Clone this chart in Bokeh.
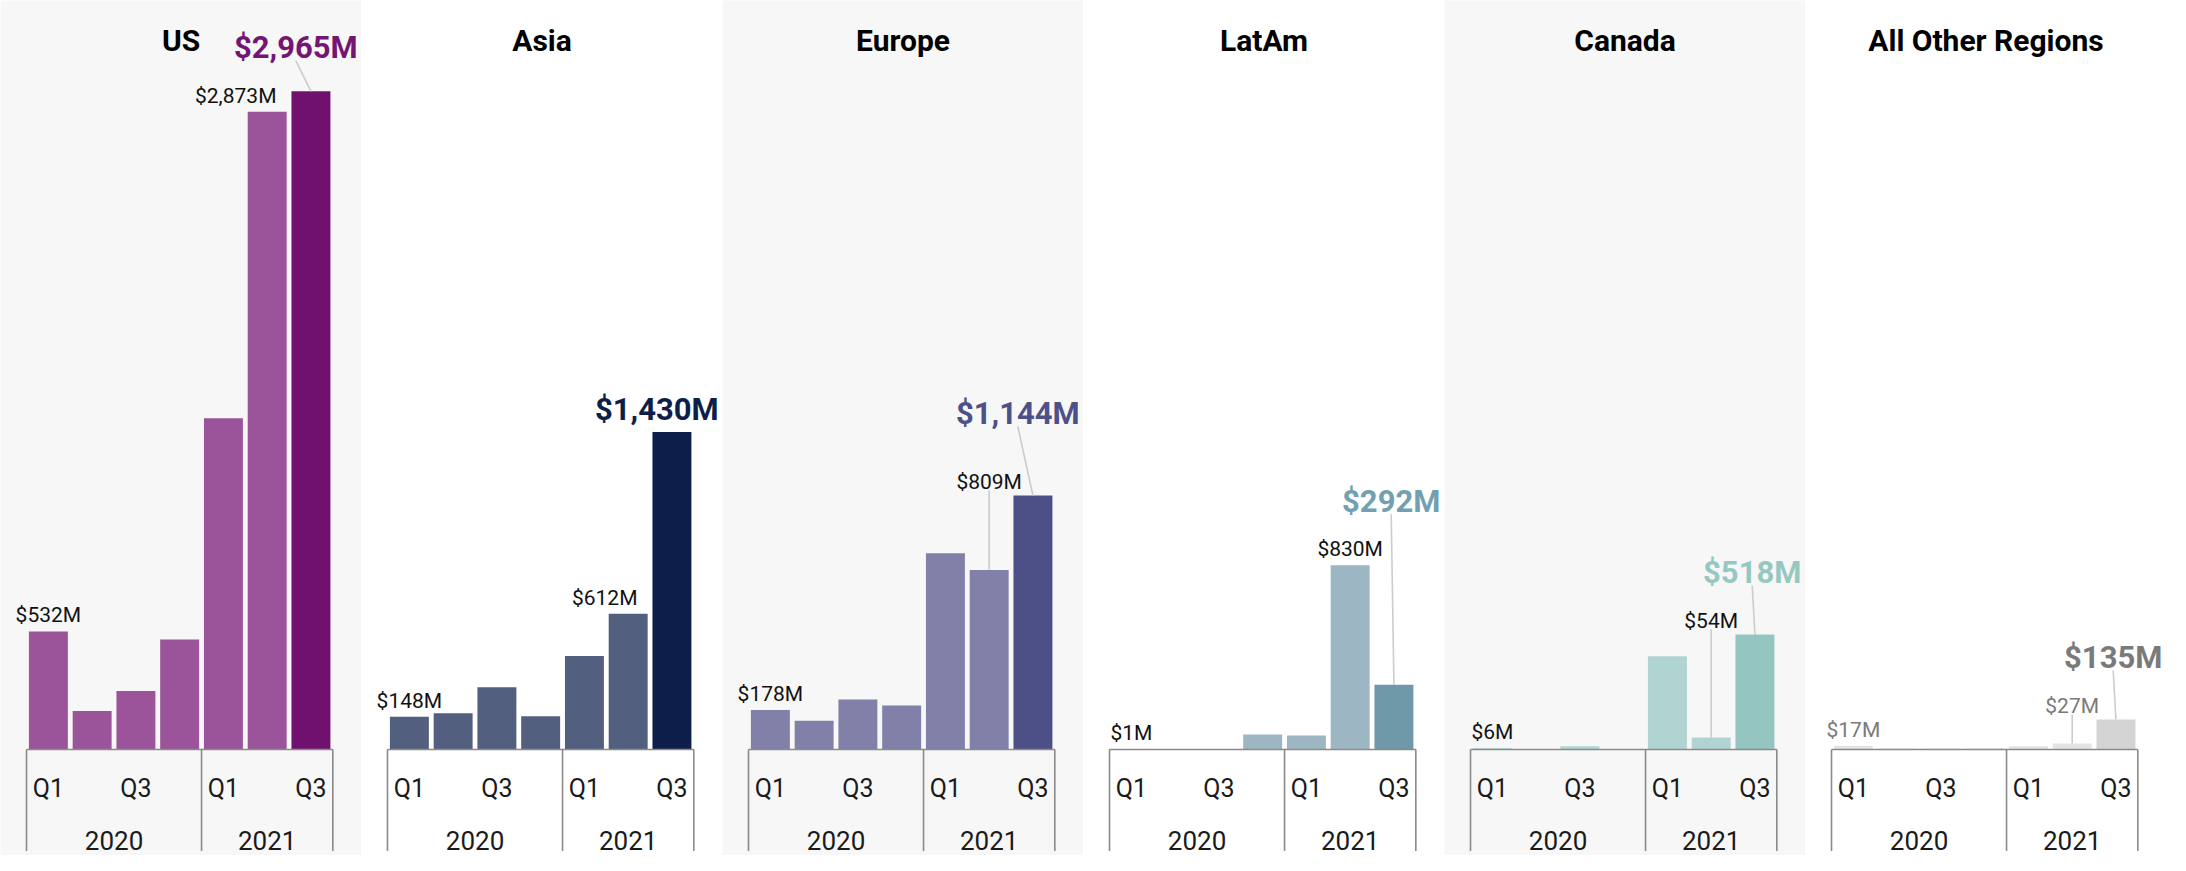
from bokeh.plotting import figure
from bokeh.layouts import row
from bokeh.models import Range1d
from bokeh.core.properties import value
from bokeh.embed import file_html
from bokeh.resources import INLINE

# ---------------- data ----------------
regions = ["US", "Asia", "Europe", "LatAm", "Canada", "All Other Regions"]
quarters = ["Q1", "Q2", "Q3", "Q4", "Q1", "Q2", "Q3"]
years = ["2020", "2021"]
quarters_per_year = [4, 3]
shown_quarter_ticks = ["Q1", "Q3"]

us = [532, 173, 263, 496, 1492, 2873, 2965]
asia = [148, 163, 280, 150, 421, 612, 1430]
europe = [178, 130, 225, 198, 884, 809, 1144]
latam = [1, 0, 0, 68, 63, 830, 292]
canada = [6, 0, 15, 0, 420, 54, 518]
others = [17, 4, 4, 4, 15, 27, 135]

series = [us, asia, europe, latam, canada, others]

# ---------------- styles ----------------
bar_colors = ["#9b5499", "#525f7e", "#8080a8", "#9db6c3", "#b0d4d1", "#e4e4e4"]
last_colors = ["#701170", "#0d1e4a", "#4d5086", "#6f98a8", "#94c5c0", "#d4d4d4"]
big_label_colors = ["#741574", "#0d1e4a", "#4d5187", "#72a0b0", "#96c8c2", "#7a7a7a"]
small_label_colors = ["#111111", "#111111", "#111111", "#111111", "#111111", "#7a7a7a"]
backgrounds = ["#f7f7f7", "#ffffff", "#f7f7f7", "#ffffff", "#f7f7f7", "#ffffff"]
second_label_mode = ["left", "left", "lift", "above", "lift", "lift"]
big_extra_lift = [0, 0, 20, 0, 0, 0]

FONT = value("Roboto")
W, H = 361, 855
SHIFT = 0
K = 0.222          # px per $M
BASE = 749 - SHIFT # px (from top) of value 0
SX = 43.76         # px per quarter
X_LEFT_PX = 26.0   # px of the left group edge (x=-0.5)
BAR_W = 0.89
LEADER = "#cccccc"
AXIS = "#8a8a8a"

x_start = -0.5 - X_LEFT_PX / SX
x_end = x_start + W / SX
y_start = -(H - BASE) / K
y_end = BASE / K


def px2x(px):
    return x_start + px / SX


def x2px(x):
    return (x - x_start) * SX


def px2y(py):
    return (BASE - py) / K


def y2px(y):
    return BASE - y * K


def text_w(s, size, bold=False):
    w = 0.0
    for ch in s:
        if ch.isdigit() or ch == "$":
            w += 0.5615
        elif ch == ",":
            w += 0.24 if bold else 0.196
        elif ch == "M":
            w += 0.87
        else:
            w += 0.55
    return w * size


def fmt(v):
    return f"${v:,}M"


# group boundaries on the categorical positions
bounds = [-0.5]
for n in quarters_per_year:
    bounds.append(bounds[-1] + n)
year_mids = [(bounds[i] + bounds[i + 1]) / 2 for i in range(len(years))]

SMALL = 21
figs = []
for r, name in enumerate(regions):
    vals = series[r]
    n = len(vals)
    xs = list(range(n))
    p = figure(width=W, height=H, x_range=Range1d(x_start, x_end),
               y_range=Range1d(y_start, y_end), output_backend="svg",
               toolbar_location=None, tools="", min_border=0,
               x_axis_location=None, y_axis_location=None,
               background_fill_color=backgrounds[r],
               border_fill_color=backgrounds[r], outline_line_color=None)
    p.grid.grid_line_color = None

    colors = [bar_colors[r]] * (n - 1) + [last_colors[r]]
    p.vbar(x=xs, top=vals, width=BAR_W, color=colors, line_color=None)

    # ---- labels ----
    sm_x, sm_y, sm_t, sm_align = [], [], [], []
    lead_x0, lead_y0, lead_x1, lead_y1 = [], [], [], []

    # first bar
    base0 = y2px(vals[0]) - 16
    sm_x.append(0); sm_y.append(px2y(base0)); sm_t.append(fmt(vals[0])); sm_align.append("center")

    # second to last bar
    i6 = n - 2
    t6 = fmt(vals[i6])
    w6 = text_w(t6, SMALL)
    c6 = x2px(i6)
    mode = second_label_mode[r]
    if mode == "left":
        right = x2px(n - 1 - BAR_W / 2) - 15
        b6 = y2px(vals[i6]) - 16
        sm_x.append(px2x(right)); sm_align.append("right")
        box6 = (right - w6, right)
    elif mode == "lift":
        b6 = y2px(vals[n - 1]) - 14
        sm_x.append(i6); sm_align.append("center")
        box6 = (c6 - w6 / 2, c6 + w6 / 2)
        lead_x0.append(i6); lead_y0.append(px2y(b6 + 9))
        lead_x1.append(i6); lead_y1.append(vals[i6])
    else:
        b6 = y2px(vals[i6]) - 16
        sm_x.append(i6); sm_align.append("center")
        box6 = (c6 - w6 / 2, c6 + w6 / 2)
    sm_y.append(px2y(b6)); sm_t.append(t6)

    for j in range(len(sm_t)):
        p.text(x=[sm_x[j]], y=[sm_y[j]], text=[sm_t[j]], text_font=FONT,
               text_font_size=f"{SMALL}px", text_align=sm_align[j],
               text_baseline="alphabetic", text_color=small_label_colors[r])

    # big label on last bar
    i7 = n - 1
    t7 = fmt(vals[i7])
    w7 = text_w(t7, 31, bold=True)
    c7 = min(x2px(i7), W - 5 - w7 / 2)
    top7 = y2px(vals[i7])
    b7 = top7 - 23
    if (c7 - w7 / 2) < box6[1] and (c7 + w7 / 2) > box6[0]:
        b7 = min(b7, b6 - 48)
    b7 -= big_extra_lift[r]
    if top7 - (b7 + 13) > 14:
        lead_x0.append(px2x(c7)); lead_y0.append(px2y(b7 + 13))
        lead_x1.append(i7); lead_y1.append(vals[i7])
    if lead_x0:
        p.segment(x0=lead_x0, y0=lead_y0, x1=lead_x1, y1=lead_y1,
                  line_color=LEADER, line_width=1.6)
    p.text(x=[px2x(c7)], y=[px2y(b7)], text=[t7], text_font=FONT,
           text_font_size="31px", text_font_style="bold", text_align="center",
           text_baseline="alphabetic", text_color=big_label_colors[r])

    # ---- grouped category axis ----
    p.segment(x0=[bounds[0]], y0=[0], x1=[bounds[-1]], y1=[0],
              line_color=AXIS, line_width=1.6)
    p.segment(x0=bounds, y0=[0] * len(bounds), x1=bounds,
              y1=[px2y(850.5 - SHIFT)] * len(bounds), line_color=AXIS, line_width=1.6)
    qx = [i for i, q in enumerate(quarters) if q in shown_quarter_ticks]
    p.text(x=qx, y=[px2y(793.7 - SHIFT - 0.22 * 25)] * len(qx),
           text=[quarters[i] for i in qx],
           text_font=FONT, text_font_size="25px", text_align="center",
           text_baseline="middle", text_color="#1a1a1a")
    p.text(x=year_mids, y=[px2y(845.3 - SHIFT - 0.22 * 26)] * len(years), text=years,
           text_font=FONT, text_font_size="26px", text_align="center",
           text_baseline="middle", text_color="#1a1a1a")

    # title
    p.text(x=[px2x(W / 2)], y=[px2y(40.3 - SHIFT)], text=[name], text_font=FONT,
           text_font_size="30px", text_font_style="bold", text_align="center",
           text_baseline="alphabetic", text_color="#000000")
    figs.append(p)

layout = row(*figs, spacing=0)
open("out.html", "w").write(file_html(layout, INLINE))
